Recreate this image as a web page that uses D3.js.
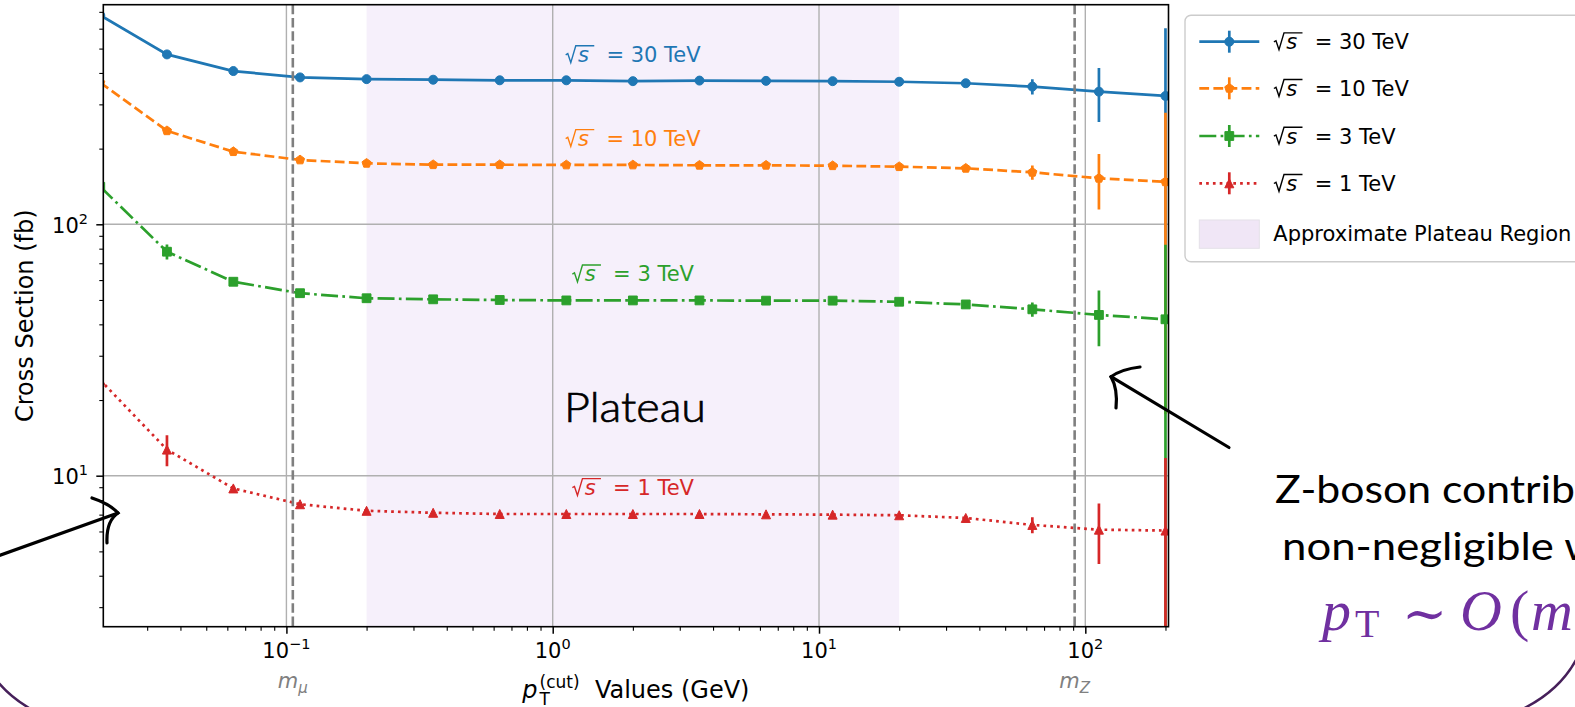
<!DOCTYPE html>
<html>
<head>
<meta charset="utf-8">
<script src="https://cdn.jsdelivr.net/npm/d3@7"></script>
<style>
  body { margin: 0; background: #fff; overflow: hidden; }
  svg { display: block; }
  text { font-family: "DejaVu Sans", sans-serif; white-space: pre; }
</style>
</head>
<body>
<script>
var width = 1575;
var height = 707;

// pT cut values (GeV)
var ptCut = [0.02, 0.0356, 0.0632, 0.1125, 0.2, 0.3557, 0.6325, 1.125, 2, 3.557, 6.325, 11.25, 20, 35.57, 63.25, 112.5, 200];

// cross sections (fb) and their errors
var xs30  = [678, 474, 407, 384, 378, 376, 374, 374, 371, 373, 372, 371, 369, 364, 353, 337, 324];
var err30 = [0, 6, 4, 3, 2, 2, 2, 2, 2, 2, 3, 3, 4, 6, 25, 82, 279];
var xs10  = [366, 235.5, 194.5, 180.3, 174.8, 172.6, 172.6, 172.2, 172.2, 171.7, 171.7, 171.0, 169.5, 167.0, 161, 152.4, 147.6];
var err10 = [0, 5, 2, 2, 1, 1, 1, 1, 1, 1, 1, 1, 2, 3, 10.5, 38, 130];
var xs3   = [141, 77.8, 59.1, 53.2, 50.8, 50.3, 50.0, 49.8, 49.8, 49.8, 49.7, 49.7, 49.2, 48.0, 45.9, 43.6, 41.9];
var err3  = [0, 5.3, 1, 0.8, 0.5, 0.4, 0.4, 0.4, 0.4, 0.4, 0.4, 0.5, 0.6, 0.8, 3, 10.9, 41];
var xs1   = [24.0, 12.7, 8.9, 7.7, 7.25, 7.12, 7.04, 7.04, 7.04, 7.04, 7.02, 7.0, 6.96, 6.79, 6.37, 6.1, 6.05];
var err1  = [0, 1.8, 0.2, 0.1, 0.08, 0.07, 0.06, 0.06, 0.06, 0.06, 0.07, 0.08, 0.1, 0.15, 0.47, 1.65, 5.7];

var energies = ["30 TeV", "10 TeV", "3 TeV", "1 TeV"];
var colors = ["#1f77b4", "#ff7f0e", "#2ca02c", "#d62728"];

var xMajor = [0.1, 1, 10, 100];
var xMajorExp = ["\u22121", "0", "1", "2"];
var yMajor = [10, 100];
var yMajorExp = ["1", "2"];
var plateauRange = [0.2, 20];
var massValues = [0.1057, 91.19];
var massSubs = ["\u03bc", "Z"];
var xLimits = [0.02053, 205.3];
var yLimits = [2.508, 747.4];
var labelAt = 2; // GeV, where the in-plot energy labels sit

var L = 103.3, R = 1168.5, T = 4.7, B = 626.7;
var lw = 2.7;

var svg = d3.select("body").append("svg")
    .attr("width", width)
    .attr("height", height);

svg.append("rect").attr("width", width).attr("height", height).attr("fill", "#fff");

var x = d3.scaleLog().domain(xLimits).range([L, R]);
var y = d3.scaleLog().domain(yLimits).range([B, T]);

svg.append("clipPath").attr("id", "plotclip")
  .append("rect").attr("x", L).attr("y", T).attr("width", R - L).attr("height", B - T);

var plot = svg.append("g").attr("clip-path", "url(#plotclip)");

// plateau band
plot.append("rect")
    .attr("x", x(plateauRange[0]))
    .attr("y", T)
    .attr("width", x(plateauRange[1]) - x(plateauRange[0]))
    .attr("height", B - T)
    .attr("fill", "#f6f0fb");

// grid
plot.selectAll(".vgrid").data(xMajor).enter().append("line")
    .attr("x1", d => x(d)).attr("x2", d => x(d))
    .attr("y1", T).attr("y2", B)
    .attr("stroke", "#b0b0b0").attr("stroke-width", 1.4);
plot.selectAll(".hgrid").data(yMajor).enter().append("line")
    .attr("x1", L).attr("x2", R)
    .attr("y1", d => y(d)).attr("y2", d => y(d))
    .attr("stroke", "#b0b0b0").attr("stroke-width", 1.4);

function markerPath(type, r) {
    if (type == "circle") return d3.symbol(d3.symbolCircle, Math.PI * r * r)();
    if (type == "square") return `M${-r},${-r}h${2*r}v${2*r}h${-2*r}Z`;
    if (type == "triangle") return `M0,${-r}L${r},${r}L${-r},${r}Z`;
    // pentagon
    var pts = d3.range(5).map(k => {
        var a = -Math.PI / 2 + k * 2 * Math.PI / 5;
        return [r * Math.cos(a), r * Math.sin(a)];
    });
    return "M" + pts.join("L") + "Z";
}

var series = [
    { vals: xs30, errs: err30, dash: null, marker: "circle", r: 4.5 },
    { vals: xs10, errs: err10, dash: [9.8, 4.3], marker: "pentagon", r: 4.8 },
    { vals: xs3, errs: err3, dash: [17, 4.3, 2.7, 4.3], marker: "square", r: 4.4 },
    { vals: xs1, errs: err1, dash: [2.7, 4.1], marker: "triangle", r: 4.5 }
];

var line = d3.line().x(d => x(d[0])).y(d => y(d[1]));

series.forEach((s, i) => {
    var pts = ptCut.map((p, j) => [p, s.vals[j]]);
    var g = plot.append("g");
    g.append("path")
        .attr("d", line(pts))
        .attr("fill", "none")
        .attr("stroke", colors[i])
        .attr("stroke-width", lw)
        .attr("stroke-dasharray", s.dash ? s.dash.join(",") : null);
    g.selectAll(".mk").data(pts).enter().append("path")
        .attr("transform", d => `translate(${x(d[0])},${y(d[1])})`)
        .attr("d", markerPath(s.marker, s.r))
        .attr("fill", colors[i])
        .attr("stroke", colors[i])
        .attr("stroke-width", 1);
    g.selectAll(".eb").data(ptCut.map((p, j) => [p, s.vals[j], s.errs[j]])).enter().append("line")
        .attr("x1", d => x(d[0])).attr("x2", d => x(d[0]))
        .attr("y1", d => y(d[1] + d[2]))
        .attr("y2", d => y(Math.max(d[1] - d[2], 1e-3)))
        .attr("stroke", colors[i])
        .attr("stroke-width", lw);
});

// particle mass lines
plot.selectAll(".mass").data(massValues).enter().append("line")
    .attr("x1", d => x(d)).attr("x2", d => x(d))
    .attr("y1", T).attr("y2", B)
    .attr("stroke", "#7f7f7f")
    .attr("stroke-width", 2.6)
    .attr("stroke-dasharray", "9.5,3.8");

// axes
var xMinor = [], yMinor = [];
[-2, -1, 0, 1, 2].forEach(e => d3.range(2, 10).forEach(m => {
    var v = m * Math.pow(10, e);
    if (v >= xLimits[0] && v <= xLimits[1]) xMinor.push(v);
}));
[0, 1, 2].forEach(e => d3.range(2, 10).forEach(m => {
    var v = m * Math.pow(10, e);
    if (v >= yLimits[0] && v <= yLimits[1]) yMinor.push(v);
}));

function styleAxis(g, w) {
    g.select(".domain").remove();
    g.selectAll("text").remove();
    g.selectAll("line").attr("stroke", "#000").attr("stroke-width", w);
}

svg.append("g").attr("transform", `translate(0,${B})`)
    .call(d3.axisBottom(x).tickValues(xMinor).tickSize(4).tickFormat(""))
    .call(g => styleAxis(g, 1.1));
svg.append("g").attr("transform", `translate(0,${B})`)
    .call(d3.axisBottom(x).tickValues(xMajor).tickSize(7).tickFormat(""))
    .call(g => styleAxis(g, 1.5));
svg.append("g").attr("transform", `translate(${L},0)`)
    .call(d3.axisLeft(y).tickValues(yMinor).tickSize(4).tickFormat(""))
    .call(g => styleAxis(g, 1.1));
svg.append("g").attr("transform", `translate(${L},0)`)
    .call(d3.axisLeft(y).tickValues(yMajor).tickSize(7).tickFormat(""))
    .call(g => styleAxis(g, 1.5));

// frame
svg.append("rect")
    .attr("x", L).attr("y", T).attr("width", R - L).attr("height", B - T)
    .attr("fill", "none").attr("stroke", "#000").attr("stroke-width", 1.6);

// tick labels
xMajor.forEach((v, i) => {
    var t = svg.append("text")
        .attr("x", x(v)).attr("y", 658)
        .attr("text-anchor", "middle")
        .style("font-size", "21px");
    t.append("tspan").text("10");
    t.append("tspan").attr("dy", -8.7).style("font-size", "14.5px").text(xMajorExp[i]);
});
yMajor.forEach((v, i) => {
    var t = svg.append("text")
        .attr("x", 88).attr("y", y(v) + 8.5)
        .attr("text-anchor", "end")
        .style("font-size", "21px");
    t.append("tspan").text("10");
    t.append("tspan").attr("dy", -8.7).style("font-size", "14.5px").text(yMajorExp[i]);
});

// mass labels
massValues.forEach((v, i) => {
    var t = svg.append("text")
        .attr("x", x(v)).attr("y", 688.3)
        .attr("text-anchor", "middle")
        .attr("fill", "#808080")
        .style("font-size", "21px")
        .style("font-style", "italic");
    t.append("tspan").text("m");
    t.append("tspan").attr("dy", 5).style("font-size", "15px").text(massSubs[i]);
});

// axis titles
var xl = svg.append("text")
    .attr("x", (L + R) / 2).attr("y", 698.3)
    .attr("text-anchor", "middle")
    .style("font-size", "24px");
xl.append("tspan").style("font-style", "italic").text("p");
xl.append("tspan").attr("dx", 2).attr("dy", 6.5).style("font-size", "17px").text("T");
xl.append("tspan").attr("dx", -10.4).attr("dy", -16.5).style("font-size", "17px").text("(cut)");
xl.append("tspan").attr("dy", 10).text("  Values (GeV)");

svg.append("text")
    .attr("transform", `translate(33,${(T + B) / 2}) rotate(-90)`)
    .attr("text-anchor", "middle")
    .style("font-size", "24px")
    .text("Cross Section (fb)");

// sqrt(s) = ... labels
function sqrtLabel(parent, px, py, rest, color, centered) {
    var fs = 21;
    var g = parent.append("g").attr("transform", `translate(${px},${py})`);
    g.append("path")
        .attr("d", `M0.6,-7.4 L2.7,-8.6 L5.7,0.4 L10.7,-16.4 L${1.39 * fs},-16.4`)
        .attr("fill", "none").attr("stroke", color).attr("stroke-width", 1.4);
    g.append("text").attr("x", 0.62 * fs).attr("fill", color)
        .style("font-size", fs + "px").style("font-style", "italic").text("s");
    var t = g.append("text").attr("x", 1.97 * fs).attr("fill", color)
        .style("font-size", fs + "px").text("= " + rest);
    if (centered) {
        var w = 1.97 * fs + t.node().getComputedTextLength();
        g.attr("transform", `translate(${px - w / 2},${py})`);
    }
}

var idx = ptCut.indexOf(labelAt);
series.forEach((s, i) => {
    sqrtLabel(svg, x(labelAt), y(s.vals[idx] * 1.19), energies[i], colors[i], true);
});

// legend
var leg = svg.append("g");
leg.append("rect")
    .attr("x", 1185).attr("y", 15.3).attr("width", 500).attr("height", 246.4)
    .attr("rx", 6)
    .attr("fill", "rgba(255,255,255,0.8)")
    .attr("stroke", "#cccccc").attr("stroke-width", 1.4);
var rowY = [41.7, 88.3, 136, 183.3, 233.3];
series.forEach((s, i) => {
    var ry = rowY[i];
    leg.append("line")
        .attr("x1", 1199.3).attr("x2", 1259.3).attr("y1", ry).attr("y2", ry)
        .attr("stroke", colors[i]).attr("stroke-width", lw)
        .attr("stroke-dasharray", s.dash ? s.dash.join(",") : null);
    leg.append("line")
        .attr("x1", 1229.3).attr("x2", 1229.3).attr("y1", ry - 11).attr("y2", ry + 11)
        .attr("stroke", colors[i]).attr("stroke-width", lw);
    leg.append("path")
        .attr("transform", `translate(1229.3,${ry})`)
        .attr("d", markerPath(s.marker, s.r))
        .attr("fill", colors[i]).attr("stroke", colors[i]).attr("stroke-width", 1);
    sqrtLabel(leg, 1273.3, ry + 7.6, energies[i], "#000", false);
});
leg.append("rect")
    .attr("x", 1199.3).attr("y", 220).attr("width", 60).attr("height", 28.3)
    .attr("fill", "#f0e6f6")
    .attr("stroke", "#e4e0e8").attr("stroke-width", 1);
leg.append("text")
    .attr("x", 1273.3).attr("y", 240.9)
    .style("font-size", "21px")
    .text("Approximate Plateau Region");

// slide annotations
function fitText(px, py, str, size, n, target, weight, extra) {
    var g = svg.append("g");
    var t = g.append("text")
        .attr("fill", "#000")
        .attr("stroke", extra ? "#000" : null)
        .attr("stroke-width", extra || null)
        .style("font-family", "Lato, 'Open Sans', sans-serif")
        .style("font-weight", weight)
        .style("font-size", size + "px")
        .text(str);
    var w = t.node().getSubStringLength(0, n);
    g.attr("transform", `translate(${px},${py}) scale(${target / w},1)`);
}
fitText(564, 421.7, "Plateau", 42, 7, 142, 300, 0.7);
fitText(1275, 503.3, "Z-boson contributions", 39.5, 15, 300, 400, 0);
fitText(1282, 560, "non-negligible when", 39.5, 14, 272, 400, 0);

var purple = "#7030a0";
var serif = "'Liberation Serif', 'DejaVu Serif', serif";
function mathPiece(px, py, str, size, italic, family) {
    svg.append("text")
        .attr("x", px).attr("y", py)
        .attr("fill", purple)
        .style("font-family", family || serif)
        .style("font-size", size + "px")
        .style("font-style", italic ? "italic" : "normal")
        .text(str);
}
mathPiece(1322, 630, "p", 58, true);
mathPiece(1355, 637, "T", 40, false);
mathPiece(1402, 632, "\u223c", 54, false, "'DejaVu Serif', serif");
mathPiece(1460, 630, "O", 58, true);
mathPiece(1510, 630, "(", 58, false);
mathPiece(1531, 630, "m", 58, true);

var ink = svg.append("g").attr("fill", "none").attr("stroke", "#000")
    .attr("stroke-width", 3.2).attr("stroke-linecap", "round");
ink.append("path").attr("d", "M-5,557 L118,513");
ink.append("path").attr("d", "M92,498 Q110,504 118,513 Q106,521 107,543");
ink.append("path").attr("d", "M1229,447.5 L1111,376.7");
ink.append("path").attr("d", "M1140,367 Q1122,369 1111,376.7 Q1118,389 1116,408");

var arcs = svg.append("g").attr("fill", "none").attr("stroke", "#46205a").attr("stroke-width", 2.4);
arcs.append("path").attr("d", "M-2,682 Q12,699 36,712");
arcs.append("path").attr("d", "M1580,652 Q1562,692 1516,712");
</script>
</body>
</html>
